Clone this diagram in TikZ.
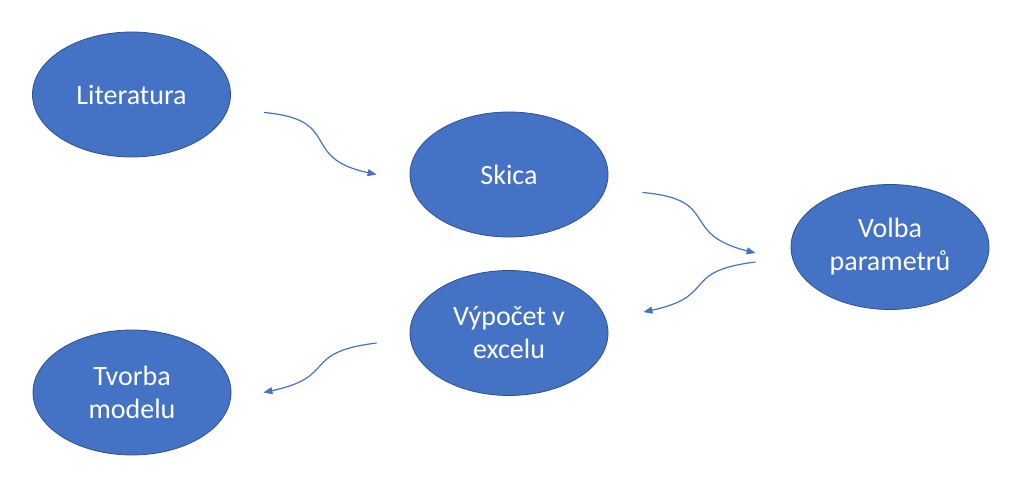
\documentclass[tikz,border=0pt]{standalone}
\usepackage{fontspec}
\setmainfont{Carlito}
\usetikzlibrary{shapes.geometric,arrows.meta}
\definecolor{krokblue}{HTML}{4472C4}
\definecolor{krokedge}{HTML}{2F528F}
\tikzset{
  krok/.style={ellipse, fill=krokblue, draw=krokedge, line width=0.8pt,
    minimum width=198pt, minimum height=125pt, inner sep=0pt,
    text=white, align=center, font=\fontsize{28}{33}\selectfont},
  sipka/.style={draw=krokblue, line width=1.2pt,
    -{Triangle[length=9pt,width=7pt]}}
}
\begin{document}
\begin{tikzpicture}[x=1pt,y=1pt]
    \useasboundingbox (0,0) rectangle (1024,487);

    \node[krok] (lit) at (131.5,392.5) {Literatura};
    \node[krok] (skica) at (509,312.5) {Skica};
    \node[krok] (volba) at (890,240) {Volba\\parametrů};
    \node[krok] (vypocet) at (509,154) {Výpočet v\\excelu};
    \node[krok] (tvorba) at (132,94.5) {Tvorba\\modelu};

    \coordinate (a1) at ([shift={(33,-18)}]lit.east);
    \coordinate (b1) at ([shift={(-33,0)}]skica.west);
    \coordinate (a2) at ([shift={(34,-18)}]skica.east);
    \coordinate (b2) at ([shift={(-35,-6)}]volba.west);
    \coordinate (a3) at ([shift={(-35,-15)}]volba.west);
    \coordinate (b3) at ([shift={(35,21)}]vypocet.east);
    \coordinate (a4) at ([shift={(-33,-10)}]vypocet.west);
    \coordinate (b4) at ([shift={(32,0)}]tvorba.east);

    \draw[sipka] (a1) to[out=-5,in=168,looseness=1.6] (b1);
    \draw[sipka] (a2) to[out=-5,in=166,looseness=1.6] (b2);
    \draw[sipka] (a3) to[out=187,in=12,looseness=1.6] (b3);
    \draw[sipka] (a4) to[out=187,in=12,looseness=1.6] (b4);
\end{tikzpicture}
\end{document}
